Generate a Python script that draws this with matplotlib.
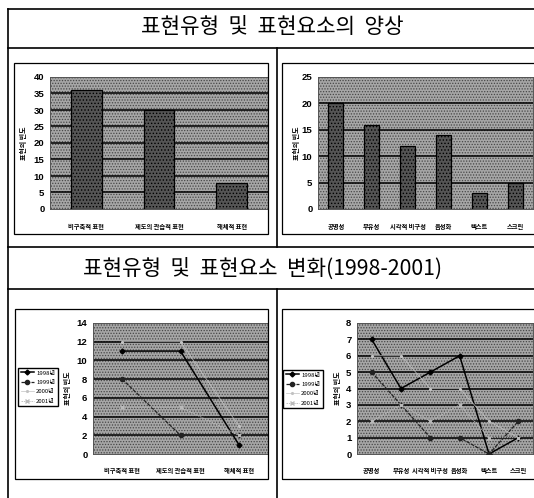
import matplotlib
matplotlib.use('Agg')
from matplotlib import pyplot as plt
from matplotlib.lines import Line2D
from matplotlib.patches import Rectangle

plt.rcParams['font.family'] = ['Noto Sans CJK KR', 'DejaVu Sans']
plt.rcParams['hatch.linewidth'] = 0.6

W, H = 534, 498

# expression types (totals)
type_labels = ['비구축적 표현', '제도의 관습적 표현', '해체적 표현']
type_counts = [36, 30, 8]

# expression elements (totals)
element_labels = ['공명성', '부유성', '시각적 비구성', '음성화', '텍스트', '스크린']
element_counts = [20, 16, 12, 14, 3, 5]

# yearly breakdown
years = ['1998년', '1999년', '2000년', '2001년']
type_1998 = [11, 11, 1]
type_1999 = [8, 2, 2]
type_2000 = [12, 12, 3]
type_2001 = [5, 5, 2]
element_1998 = [7, 4, 5, 6, 0, 1]
element_1999 = [5, 3, 1, 1, 0, 2]
element_2000 = [6, 6, 4, 4, 2, 1]
element_2001 = [2, 3, 2, 3, 1, 1]

fig = plt.figure(figsize=(W / 100, H / 100), dpi=100)


def fx(x):
    return x / W


def fy(y):
    return 1 - y / H


def hline(x0, x1, y, lw=1.2):
    fig.add_artist(Line2D([fx(x0), fx(x1)], [fy(y), fy(y)], color='black', lw=lw))


def vline(x, y0, y1, lw=1.2):
    fig.add_artist(Line2D([fx(x), fx(x)], [fy(y0), fy(y1)], color='black', lw=lw))


def panel(x0, y0, x1, y1):
    fig.add_artist(Rectangle((fx(x0), fy(y1)), fx(x1) - fx(x0), fy(y0) - fy(y1),
                             fill=False, edgecolor='black', lw=0.9,
                             transform=fig.transFigure))


def axes_px(x0, y0, x1, y1):
    return fig.add_axes([fx(x0), fy(y1), fx(x1) - fx(x0), fy(y0) - fy(y1)])


def style(ax, ymax, step, ncat):
    # dotted grey plot area
    ax.add_patch(Rectangle((0, 0), 1, 1, transform=ax.transAxes, facecolor='#a6a6a6',
                           edgecolor='#474747', hatch='......', lw=0, zorder=0))
    ax.set_xlim(-0.5, ncat - 0.5)
    ax.set_ylim(0, ymax)
    ticks = list(range(0, ymax + 1, step))
    ax.set_yticks(ticks)
    for t in ticks[1:-1]:
        ax.axhline(t, color='black', lw=1.1, zorder=1)
    for s in ax.spines.values():
        s.set_color('#555555')
        s.set_linewidth(0.7)
    ax.tick_params(length=0, pad=4)
    for lab in ax.get_yticklabels():
        lab.set_fontsize(6.8)
        lab.set_fontweight('bold')
        lab.set_family('Liberation Sans')


def xlabels(ax, labels, pad):
    ax.set_xticks(range(len(labels)))
    ax.set_xticklabels(labels, fontsize=4.5, fontweight='bold')
    ax.tick_params(axis='x', pad=pad)


def ylabel(x, y):
    fig.text(fx(x), fy(y), '표현의 빈도', rotation=90, fontsize=5,
             fontweight='bold', ha='center', va='center')


def bars(ax, counts):
    ax.bar(range(len(counts)), counts, width=0.42, color='#555555', edgecolor='black',
           hatch='.....', lw=0.9, zorder=2)


def legend(ax, cx, cy):
    ax.legend(loc='center', bbox_to_anchor=(fx(cx), fy(cy)), bbox_transform=fig.transFigure,
              fontsize=4.3, frameon=True, fancybox=False, edgecolor='black', framealpha=1,
              borderpad=0.4, handlelength=2.2, labelspacing=0.7, handletextpad=0.4)


# table frame
vline(8, 9, 498)
hline(8, 534, 9)
hline(8, 534, 48)
hline(8, 534, 247)
hline(8, 534, 289)
vline(277, 48, 247)
vline(277, 289, 498)

fig.text(fx(272), fy(27), '표현유형  및  표현요소의  양상', fontsize=15.3,
         ha='center', va='center')
fig.text(fx(263), fy(269), '표현유형  및  표현요소  변화(1998-2001)', fontsize=15.3,
         ha='center', va='center')

# top-left: expression types
panel(14, 63, 268, 234)
ax1 = axes_px(50, 77, 268, 209)
style(ax1, 40, 5, 3)
bars(ax1, type_counts)
xlabels(ax1, type_labels, 10)
ylabel(23, 143)

# top-right: expression elements
panel(282, 63, 540, 234)
ax2 = axes_px(318, 77, 533, 209)
style(ax2, 25, 5, 6)
bars(ax2, element_counts)
xlabels(ax2, element_labels, 10)
ylabel(296, 143)

series_style = [
    dict(color='black', lw=1.1, ls='-', marker='D', ms=2.5),
    dict(color='#222222', lw=0.9, ls=(0, (3, 1)), marker='o', ms=3),
    dict(color='#c2c2c2', lw=0.5, ls='-', marker='.', ms=2.5),
    dict(color='#bababa', lw=0.6, ls=(0, (2, 1)), marker='x', ms=2.5),
]

# bottom-left: yearly expression types
panel(15, 309, 268, 479)
ax3 = axes_px(93, 323, 268, 454)
style(ax3, 14, 2, 3)
for vals, st, yr in zip([type_1998, type_1999, type_2000, type_2001], series_style, years):
    ax3.plot(range(3), vals, label=yr, zorder=3, **st)
xlabels(ax3, type_labels, 9)
ylabel(67, 388)
legend(ax3, 38, 387)

# bottom-right: yearly expression elements
panel(282, 309, 540, 479)
ax4 = axes_px(357, 323, 533, 454)
style(ax4, 8, 1, 6)
for vals, st, yr in zip([element_1998, element_1999, element_2000, element_2001], series_style, years):
    ax4.plot(range(6), vals, label=yr, zorder=3, **st)
xlabels(ax4, element_labels, 9)
ylabel(337, 388)
legend(ax4, 303, 389)

fig.savefig('out.png', dpi=100)
